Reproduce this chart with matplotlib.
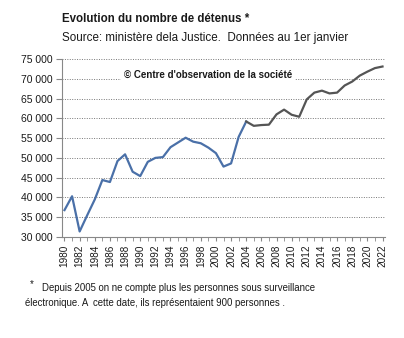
import matplotlib
matplotlib.use("Agg")
import matplotlib.pyplot as plt
from matplotlib.ticker import FuncFormatter, MultipleLocator

plt.rcParams["font.family"] = ["Liberation Sans", "DejaVu Sans"]

BLUE, GREY, INK = "#4a70a8", "#555555", "#1a1a1a"

# détenus au 1er janvier
years_a = list(range(1980, 2005))
detenus_a = [36800, 40300, 31400, 35500, 39500, 44400, 43900, 49200, 50900, 46500,
             45400, 49000, 50000, 50200, 52700, 53900, 55100, 54100, 53700, 52600,
             51200, 47800, 48600, 55300, 59200]
years_b = list(range(2004, 2023))
detenus_b = [59200, 58100, 58300, 58400, 61000, 62200, 60900, 60400, 64800, 66500,
             67000, 66300, 66500, 68300, 69300, 70800, 71800, 72700, 73100]

fig = plt.figure(figsize=(4.04, 3.38), dpi=100)
fig.patch.set_facecolor("white")
ax = fig.add_axes([62/404, 1-237/338, 323/404, 178/338])

ax.plot(years_a, detenus_a, color=BLUE, lw=1.6, solid_joinstyle="round")
ax.plot(years_b, detenus_b, color=GREY, lw=1.6, solid_joinstyle="round")

ax.set_xlim(1979.67, 2022.33)
ax.set_ylim(30000, 75000)
ax.yaxis.set_major_locator(MultipleLocator(5000))
ax.yaxis.set_major_formatter(FuncFormatter(lambda v, p: f"{int(v):,}".replace(",", " ")))
ax.set_xticks(range(1980, 2023, 2))
ax.set_xticks(range(1980, 2023), minor=True)
ax.tick_params(axis="x", labelrotation=90, labelsize=7.2, length=3, color="#888888", pad=2.5)
ax.tick_params(axis="x", which="minor", length=3, color="#888888")
ax.tick_params(axis="y", labelsize=7.5, length=4, color="#888888", pad=3)
for lab in ax.get_xticklabels() + ax.get_yticklabels():
    lab.set_color(INK)
ax.grid(axis="y", color="#777777", ls=(0, (1, 1.5)), lw=0.7)
ax.set_axisbelow(True)
for s in ["top", "right"]:
    ax.spines[s].set_visible(False)
for s in ["left", "bottom"]:
    ax.spines[s].set_color("#888888")
    ax.spines[s].set_linewidth(0.8)

ax.text(0.452, 0.913, "\u00a9 Centre d'observation de la soci\u00e9t\u00e9", transform=ax.transAxes,
        ha="center", va="center", fontsize=7, fontweight="bold", color=INK,
        bbox=dict(fc="white", ec="none", pad=2))

fig.text(62/404, 1-19/338, "Evolution du nombre de d\u00e9tenus *", fontsize=8.3, fontweight="bold",
         color=INK, va="center")
fig.text(62/404, 1-38/338, "Source: minist\u00e8re dela Justice.  Donn\u00e9es au 1er janvier",
         fontsize=8.4, color=INK, va="center")

fig.text(30/404, 1-284/338, "*", fontsize=7, color=INK, va="center")
fig.text(42/404, 1-288/338, "Depuis 2005 on ne compte plus les personnes sous surveillance",
         fontsize=6.9, color=INK, va="center")
fig.text(25/404, 1-303/338, "\u00e9lectronique. A  cette date, ils repr\u00e9sentaient 900 personnes .",
         fontsize=6.9, color=INK, va="center")

fig.savefig("out.png", dpi=100, facecolor="white")
